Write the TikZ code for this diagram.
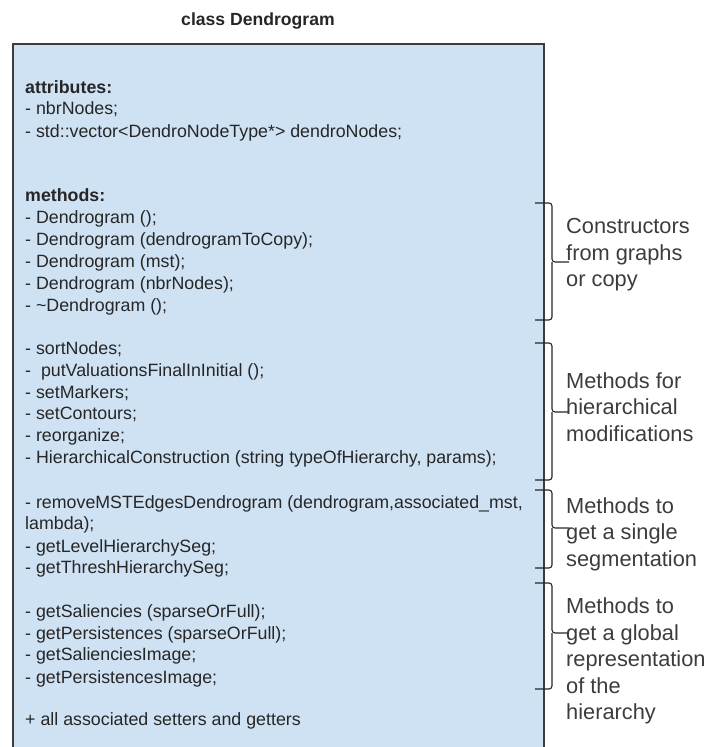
\documentclass[tikz,border=0pt]{standalone}
\usepackage{fontspec}
\setmainfont{Liberation Sans}
\usepackage{tikz}
\definecolor{boxfill}{HTML}{CFE2F3}
\definecolor{boxline}{HTML}{3C3C3C}
\definecolor{ink}{HTML}{262626}

\begin{document}
\begin{tikzpicture}[x=1pt,y=-1pt,
  member/.style={anchor=base west,inner sep=0pt,text=ink,font=\fontsize{17.8}{22}\selectfont},
  note/.style={anchor=west,inner sep=0pt,align=left,text=ink!90,font=\fontsize{21.8}{26.5}\selectfont},
  bracket/.style={draw=ink,line width=1.1pt,rounded corners=3pt}]
  \useasboundingbox (0,0) rectangle (708,747);
  \node[member,anchor=base,font=\fontsize{17.6}{22}\selectfont\bfseries] (title) at (258,25) {class Dendrogram};
  \fill[boxfill] (13,44) rectangle (544,752);
  \draw[boxline,line width=2.4pt] (13,752) -- (13,44) -- (544,44) -- (544,752);
  \foreach \y/\lbl [count=\i] in {
      93/\textbf{attributes:},
      114/- nbrNodes;,
      137/- std::vector<DendroNodeType*> dendroNodes;,
      201/\textbf{methods:},
      223/- Dendrogram ();,
      245/- Dendrogram (dendrogramToCopy);,
      267/- Dendrogram (mst);,
      289/- Dendrogram (nbrNodes);,
      311/- \textasciitilde Dendrogram ();,
      354/- sortNodes;,
      376/- \ putValuationsFinalInInitial ();,
      398/- setMarkers;,
      419/- setContours;,
      441/- reorganize;,
      463/{- HierarchicalConstruction (string typeOfHierarchy, params);},
      508/{- removeMSTEdgesDendrogram (dendrogram,associated\_mst,},
      529/lambda);,
      552/- getLevelHierarchySeg;,
      573/- getThreshHierarchySeg;,
      617/- getSaliencies (sparseOrFull);,
      639/- getPersistences (sparseOrFull);,
      660/- getSalienciesImage;,
      683/- getPersistencesImage;,
      725/+ all associated setters and getters} {
    \node[member] (line\i) at (25,\y) {\lbl};
  }
  \foreach \t/\m/\b/\c/\txt [count=\k] in {
      203/262/320/255/Constructors\\from graphs\\or copy,
      343/412/480/407/Methods for\\hierarchical\\modifications,
      490/528/568/534/Methods to\\get a single\\segmentation,
      583/633/689/661/Methods to\\get a global\\representation\\of the\\hierarchy} {
    \coordinate (top\k) at (535,\t);
    \coordinate (tip\k) at (569,\m);
    \coordinate (bot\k) at (535,\b);
    \draw[bracket] (top\k) -| (552,\m) -- (tip\k);
    \draw[bracket] (bot\k) -| (552,\m);
    \node[note] (group\k) at (566,\c) {\txt};
  }
\end{tikzpicture}
\end{document}
